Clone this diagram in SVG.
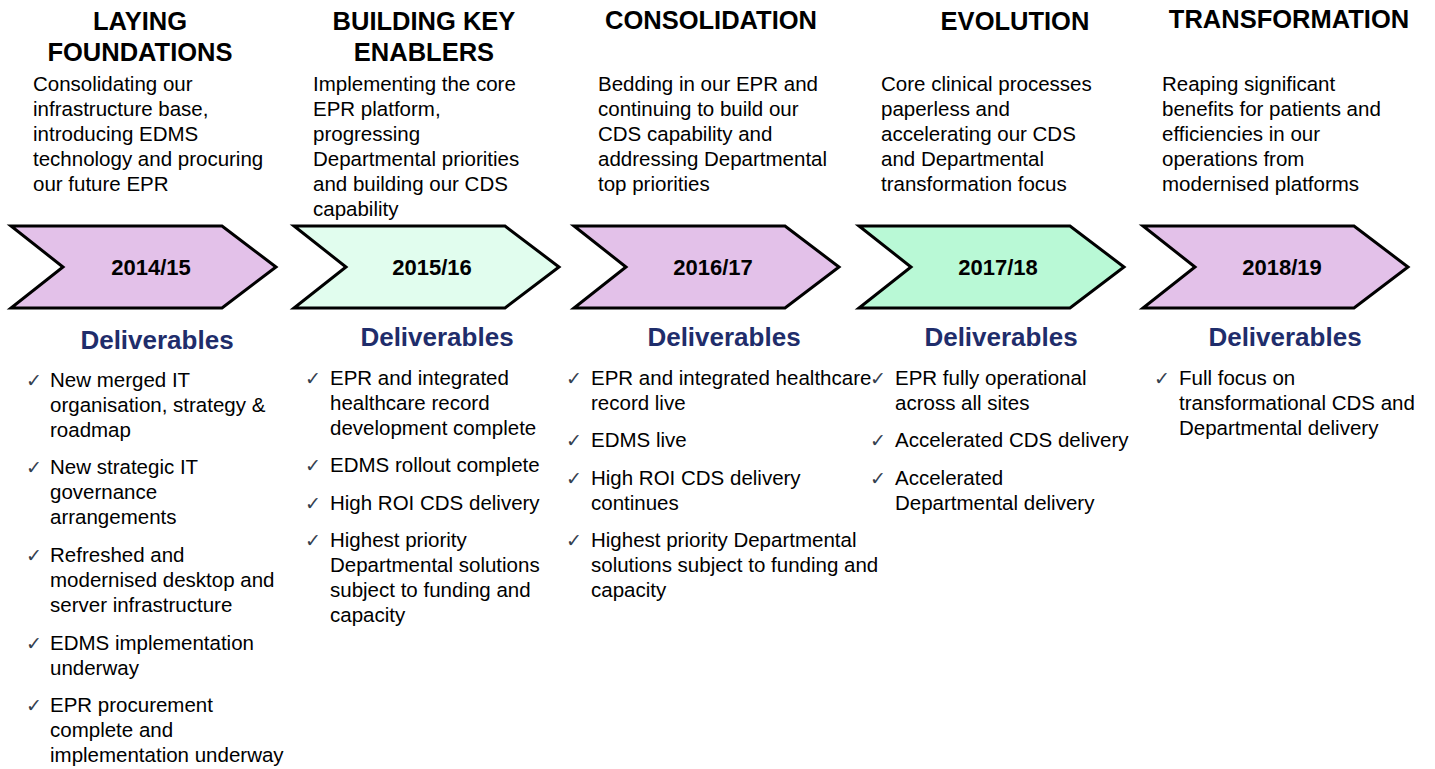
<svg xmlns="http://www.w3.org/2000/svg" width="1435" height="769" viewBox="0 0 1435 769">
<style>
.title{font-family:"Liberation Sans",Arial,sans-serif;font-weight:bold;font-size:25.5px;fill:#000;text-anchor:middle}
.desc{font-family:"Liberation Sans",Arial,sans-serif;font-size:20.5px;fill:#000}
.year{font-family:"Liberation Sans",Arial,sans-serif;font-weight:bold;font-size:22px;fill:#000;text-anchor:middle}
.deliv{font-family:"Liberation Sans",Arial,sans-serif;font-weight:bold;font-size:26px;fill:#1f2d6b;text-anchor:middle}
.chk{font-family:"DejaVu Sans",sans-serif;font-size:19px;fill:#34404f}
.chev{stroke:#000;stroke-width:3;stroke-linejoin:miter}
.purple{fill:#e3c1e9}
.lgreen{fill:#e1fdee}
.mint{fill:#b9f9d6}
</style>
<defs>
<polygon id="chevron" points="0,226 211,226 265,267 211,308 0,308 52,267"/>
</defs>
<rect width="1435" height="769" fill="#fff"/>

<g id="phase-2014">
<text class="title" x="140" y="30">LAYING</text>
<text class="title" x="140" y="61">FOUNDATIONS</text>
<text class="desc" x="33" y="91">Consolidating our</text>
<text class="desc" x="33" y="116">infrastructure base,</text>
<text class="desc" x="33" y="141">introducing EDMS</text>
<text class="desc" x="33" y="166">technology and procuring</text>
<text class="desc" x="33" y="191">our future EPR</text>
<use href="#chevron" class="chev purple" x="11"/>
<text class="year" x="151" y="275">2014/15</text>
<text class="deliv" x="157" y="349">Deliverables</text>
<text class="chk" x="26" y="387">✓</text>
<text class="desc" x="50" y="387">New merged IT</text>
<text class="desc" x="50" y="412">organisation, strategy &amp;</text>
<text class="desc" x="50" y="437">roadmap</text>
<text class="chk" x="26" y="474">✓</text>
<text class="desc" x="50" y="474">New strategic IT</text>
<text class="desc" x="50" y="499">governance</text>
<text class="desc" x="50" y="524">arrangements</text>
<text class="chk" x="26" y="562">✓</text>
<text class="desc" x="50" y="562">Refreshed and</text>
<text class="desc" x="50" y="587">modernised desktop and</text>
<text class="desc" x="50" y="612">server infrastructure</text>
<text class="chk" x="26" y="650">✓</text>
<text class="desc" x="50" y="650">EDMS implementation</text>
<text class="desc" x="50" y="675">underway</text>
<text class="chk" x="26" y="712">✓</text>
<text class="desc" x="50" y="712">EPR procurement</text>
<text class="desc" x="50" y="737">complete and</text>
<text class="desc" x="50" y="762">implementation underway</text>
</g>

<g id="phase-2015">
<text class="title" x="424" y="30">BUILDING KEY</text>
<text class="title" x="424" y="61">ENABLERS</text>
<text class="desc" x="313" y="91">Implementing the core</text>
<text class="desc" x="313" y="116">EPR platform,</text>
<text class="desc" x="313" y="141">progressing</text>
<text class="desc" x="313" y="166">Departmental priorities</text>
<text class="desc" x="313" y="191">and building our CDS</text>
<text class="desc" x="313" y="216">capability</text>
<use href="#chevron" class="chev lgreen" x="294"/>
<text class="year" x="432" y="275">2015/16</text>
<text class="deliv" x="437" y="346">Deliverables</text>
<text class="chk" x="305" y="385">✓</text>
<text class="desc" x="330" y="385">EPR and integrated</text>
<text class="desc" x="330" y="410">healthcare record</text>
<text class="desc" x="330" y="435">development complete</text>
<text class="chk" x="305" y="472">✓</text>
<text class="desc" x="330" y="472">EDMS rollout complete</text>
<text class="chk" x="305" y="510">✓</text>
<text class="desc" x="330" y="510">High ROI CDS delivery</text>
<text class="chk" x="305" y="547">✓</text>
<text class="desc" x="330" y="547">Highest priority</text>
<text class="desc" x="330" y="572">Departmental solutions</text>
<text class="desc" x="330" y="597">subject to funding and</text>
<text class="desc" x="330" y="622">capacity</text>
</g>

<g id="phase-2016">
<text class="title" x="711" y="29">CONSOLIDATION</text>
<text class="desc" x="598" y="91">Bedding in our EPR and</text>
<text class="desc" x="598" y="116">continuing to build our</text>
<text class="desc" x="598" y="141">CDS capability and</text>
<text class="desc" x="598" y="166">addressing Departmental</text>
<text class="desc" x="598" y="191">top priorities</text>
<use href="#chevron" class="chev purple" x="574"/>
<text class="year" x="713" y="275">2016/17</text>
<text class="deliv" x="724" y="346">Deliverables</text>
<text class="chk" x="566" y="385">✓</text>
<text class="desc" x="591" y="385">EPR and integrated healthcare</text>
<text class="desc" x="591" y="410">record live</text>
<text class="chk" x="566" y="447">✓</text>
<text class="desc" x="591" y="447">EDMS live</text>
<text class="chk" x="566" y="485">✓</text>
<text class="desc" x="591" y="485">High ROI CDS delivery</text>
<text class="desc" x="591" y="510">continues</text>
<text class="chk" x="566" y="547">✓</text>
<text class="desc" x="591" y="547">Highest priority Departmental</text>
<text class="desc" x="591" y="572">solutions subject to funding and</text>
<text class="desc" x="591" y="597">capacity</text>
</g>

<g id="phase-2017">
<text class="title" x="1015" y="30">EVOLUTION</text>
<text class="desc" x="881" y="91">Core clinical processes</text>
<text class="desc" x="881" y="116">paperless and</text>
<text class="desc" x="881" y="141">accelerating our CDS</text>
<text class="desc" x="881" y="166">and Departmental</text>
<text class="desc" x="881" y="191">transformation focus</text>
<use href="#chevron" class="chev mint" x="859"/>
<text class="year" x="998" y="275">2017/18</text>
<text class="deliv" x="1001" y="346">Deliverables</text>
<text class="chk" x="870" y="385">✓</text>
<text class="desc" x="895" y="385">EPR fully operational</text>
<text class="desc" x="895" y="410">across all sites</text>
<text class="chk" x="870" y="447">✓</text>
<text class="desc" x="895" y="447">Accelerated CDS delivery</text>
<text class="chk" x="870" y="485">✓</text>
<text class="desc" x="895" y="485">Accelerated</text>
<text class="desc" x="895" y="510">Departmental delivery</text>
</g>

<g id="phase-2018">
<text class="title" x="1289" y="28">TRANSFORMATION</text>
<text class="desc" x="1162" y="91">Reaping significant</text>
<text class="desc" x="1162" y="116">benefits for patients and</text>
<text class="desc" x="1162" y="141">efficiencies in our</text>
<text class="desc" x="1162" y="166">operations from</text>
<text class="desc" x="1162" y="191">modernised platforms</text>
<use href="#chevron" class="chev purple" x="1143"/>
<text class="year" x="1282" y="275">2018/19</text>
<text class="deliv" x="1285" y="346">Deliverables</text>
<text class="chk" x="1154" y="385">✓</text>
<text class="desc" x="1179" y="385">Full focus on</text>
<text class="desc" x="1179" y="410">transformational CDS and</text>
<text class="desc" x="1179" y="435">Departmental delivery</text>
</g>

<g id="connectors"></g>
</svg>
